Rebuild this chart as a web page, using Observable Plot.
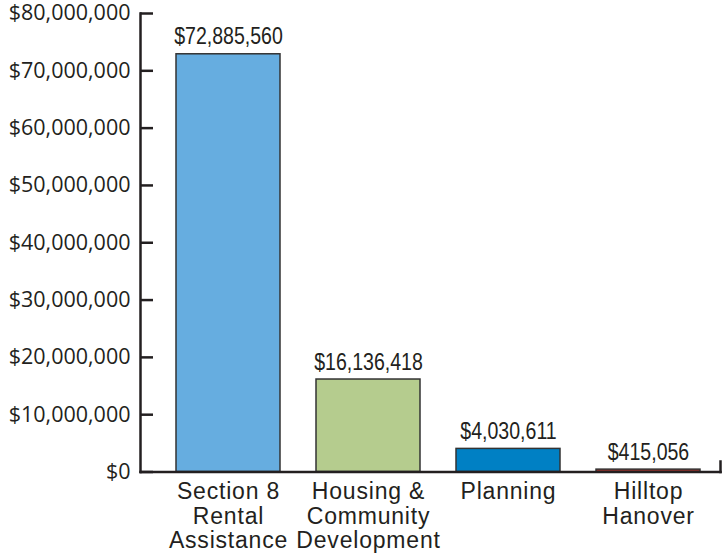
<!DOCTYPE html>
<html>
<head>
<meta charset="utf-8">
<script src="https://cdn.jsdelivr.net/npm/d3@7"></script>
<script src="https://cdn.jsdelivr.net/npm/@observablehq/plot@0.6"></script>
<style>
  html, body { margin: 0; padding: 0; background: #fff; }
  #chart svg { display: block; }
</style>
</head>
<body>
<div id="chart"></div>
<script>
const categories = ["Section 8\nRental\nAssistance", "Housing &\nCommunity\nDevelopment", "Planning", "Hilltop\nHanover"];
const values = [72885560, 16136418, 4030611, 415056];
const colors = ["#66ade0", "#b5cc8e", "#0080c4", "#b8352b"];
const yTicks = [0, 10000000, 20000000, 30000000, 40000000, 50000000, 60000000, 70000000, 80000000];

const data = categories.map((c, i) => ({category: c, value: values[i], color: colors[i]}));
const money = d => "$" + d3.format(",")(d);
const ink = "#231f20";

const chart = Plot.plot({
  width: 723,
  height: 556,
  marginTop: 13,
  marginBottom: 84.5,
  marginLeft: 140,
  marginRight: 3,
  style: {color: ink, background: "#fff", overflow: "visible"},
  x: {domain: categories, range: [156, 719], paddingInner: 0.26, paddingOuter: 0.13},
  y: {domain: [0, 80000000]},
  marks: [
    Plot.barY(data, {x: "category", y: "value", fill: "color", stroke: "#333", strokeWidth: 1.5}),
    Plot.text(data, {x: "category", y: "value", text: d => money(d.value), lineAnchor: "bottom", dy: -10,
      fontFamily: "'Liberation Sans', Arial, sans-serif", fontSize: 23, fill: ink}),
    Plot.axisY({ticks: yTicks, tickFormat: money, tickSize: -13, tickPadding: 23, strokeWidth: 2.5,
      label: null, fontFamily: "'Open Sans', sans-serif", fontSize: 21.5, fill: ink, stroke: ink}),
    Plot.axisX({tickSize: 0, tickPadding: 10, label: null, lineHeight: 1.06,
      fontFamily: "'Liberation Sans', Arial, sans-serif", fontSize: 23, fill: ink}),
    Plot.frame({anchor: "left", stroke: ink, strokeWidth: 2.5}),
    Plot.frame({anchor: "bottom", stroke: ink, strokeWidth: 2.5}),
    Plot.frame({anchor: "right", stroke: ink, strokeWidth: 2.5, insetTop: 448})
  ]
});
// typographic tweaks: condensed value labels, slightly tracked category labels
d3.select(chart).selectAll('g[aria-label="text"] text')
  .attr("transform", function() { return (this.getAttribute("transform") || "") + " scale(0.85,1)"; });
d3.select(chart).selectAll('g[aria-label="x-axis tick label"]').attr("letter-spacing", "0.8px");
document.getElementById("chart").appendChild(chart);
</script>
</body>
</html>
